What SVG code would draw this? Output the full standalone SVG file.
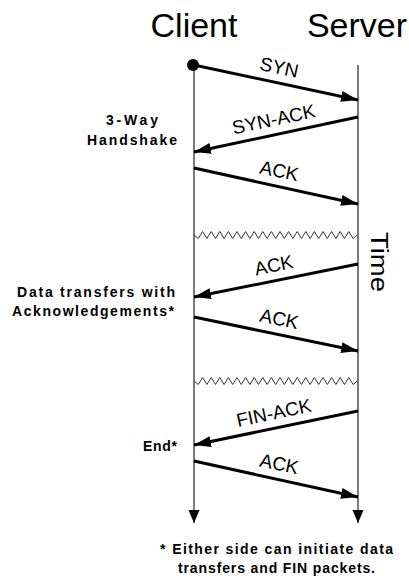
<svg xmlns="http://www.w3.org/2000/svg" width="409" height="584" viewBox="0 0 409 584">
  <style>
    .title { font-family: "Liberation Sans", Arial, sans-serif; font-size: 34px; fill: #000; }
    .note { font-family: "Liberation Sans", Arial, sans-serif; font-size: 14px; font-weight: bold; fill: #000; text-anchor: middle; }
    .msg { font-family: "Liberation Sans", Arial, sans-serif; font-size: 19px; fill: #000; text-anchor: middle; }
    .life { stroke: #333; stroke-width: 1.3; fill: none; }
    .wave { stroke: #333; stroke-width: 1; fill: none; }
    .arrow { stroke: #000; stroke-width: 3; fill: none; marker-end: url(#head); }
  </style>
  <defs>
    <marker id="head" markerUnits="userSpaceOnUse" markerWidth="18" markerHeight="12" refX="17" refY="6" orient="auto">
      <path d="M0,0.5 L17,6 L0,11.5 Z" fill="#000"/>
    </marker>
    <marker id="down" markerUnits="userSpaceOnUse" markerWidth="14" markerHeight="12" refX="13" refY="6" orient="auto">
      <path d="M0,0.5 L13,6 L0,11.5 Z" fill="#000"/>
    </marker>
  </defs>

  <!-- column headings -->
  <g id="client">
    <text class="title" x="194" y="36.5" text-anchor="middle">Client</text>
  </g>
  <g id="server">
    <text class="title" x="357" y="36.5" text-anchor="middle">Server</text>
  </g>

  <!-- time axis label -->
  <g id="time">
    <text class="title" transform="translate(371,232) rotate(90)" x="0" y="0" style="font-size:23px" textLength="60" lengthAdjust="spacingAndGlyphs">Time</text>
  </g>

  <!-- phase notes on the left -->
  <g id="handshake-note">
    <text class="note" x="132" y="125" textLength="52">3-Way</text>
    <text class="note" x="132" y="145" textLength="90">Handshake</text>
  </g>
  <g id="data-note">
    <text class="note" x="96" y="297" textLength="158">Data transfers with</text>
    <text class="note" x="93" y="316" textLength="162">Acknowledgements*</text>
  </g>
  <g id="end-note">
    <text class="note" x="160" y="451" textLength="34">End*</text>
  </g>

  <!-- footnote -->
  <g id="footnote">
    <text class="note" x="276.5" y="554" textLength="233">* Either side can initiate data</text>
    <text class="note" x="276.5" y="573" textLength="197">transfers and FIN packets.</text>
  </g>

  <g id="connectors">
    <!-- lifelines -->
    <line class="life" x1="194" y1="65" x2="194" y2="523" marker-end="url(#down)"/>
    <line class="life" x1="358" y1="65" x2="358" y2="523" marker-end="url(#down)"/>
    <circle cx="193" cy="65" r="6" fill="#000"/>

    <!-- time gaps -->
    <path class="wave" d="M194,235 l4.3,3.5 l4.3,-7 l4.3,7 l4.3,-7 l4.3,7 l4.3,-7 l4.3,7 l4.3,-7 l4.3,7 l4.3,-7 l4.3,7 l4.3,-7 l4.3,7 l4.3,-7 l4.3,7 l4.3,-7 l4.3,7 l4.3,-7 l4.3,7 l4.3,-7 l4.3,7 l4.3,-7 l4.3,7 l4.3,-7 l4.3,7 l4.3,-7 l4.3,7 l4.3,-7 l4.3,7 l4.3,-7 l4.3,7 l4.3,-7 l4.3,7 l4.3,-7 l4.3,7 l4.3,-7 l4.3,7 l4.2,-3.5"/>
    <path class="wave" d="M194,381 l4.3,3.5 l4.3,-7 l4.3,7 l4.3,-7 l4.3,7 l4.3,-7 l4.3,7 l4.3,-7 l4.3,7 l4.3,-7 l4.3,7 l4.3,-7 l4.3,7 l4.3,-7 l4.3,7 l4.3,-7 l4.3,7 l4.3,-7 l4.3,7 l4.3,-7 l4.3,7 l4.3,-7 l4.3,7 l4.3,-7 l4.3,7 l4.3,-7 l4.3,7 l4.3,-7 l4.3,7 l4.3,-7 l4.3,7 l4.3,-7 l4.3,7 l4.3,-7 l4.3,7 l4.3,-7 l4.3,7 l4.2,-3.5"/>

    <!-- messages -->
    <line class="arrow" x1="194" y1="65" x2="358" y2="100"/>
    <line class="arrow" x1="358" y1="117" x2="194" y2="152"/>
    <line class="arrow" x1="194" y1="168" x2="358" y2="204"/>
    <line class="arrow" x1="358" y1="264" x2="194" y2="297"/>
    <line class="arrow" x1="194" y1="317" x2="358" y2="351"/>
    <line class="arrow" x1="358" y1="411" x2="194" y2="445"/>
    <line class="arrow" x1="194" y1="461" x2="358" y2="497"/>

    <!-- message labels -->
    <text class="msg" transform="translate(276,82.5) rotate(12)" y="-9">SYN</text>
    <text class="msg" transform="translate(277,134.5) rotate(-12)" y="-9">SYN-ACK</text>
    <text class="msg" transform="translate(276,186) rotate(12)" y="-9">ACK</text>
    <text class="msg" transform="translate(277,280.5) rotate(-12)" y="-9">ACK</text>
    <text class="msg" transform="translate(276,334) rotate(12)" y="-9">ACK</text>
    <text class="msg" transform="translate(277,428) rotate(-12)" y="-9">FIN-ACK</text>
    <text class="msg" transform="translate(276,479) rotate(12)" y="-9">ACK</text>
  </g>
</svg>
